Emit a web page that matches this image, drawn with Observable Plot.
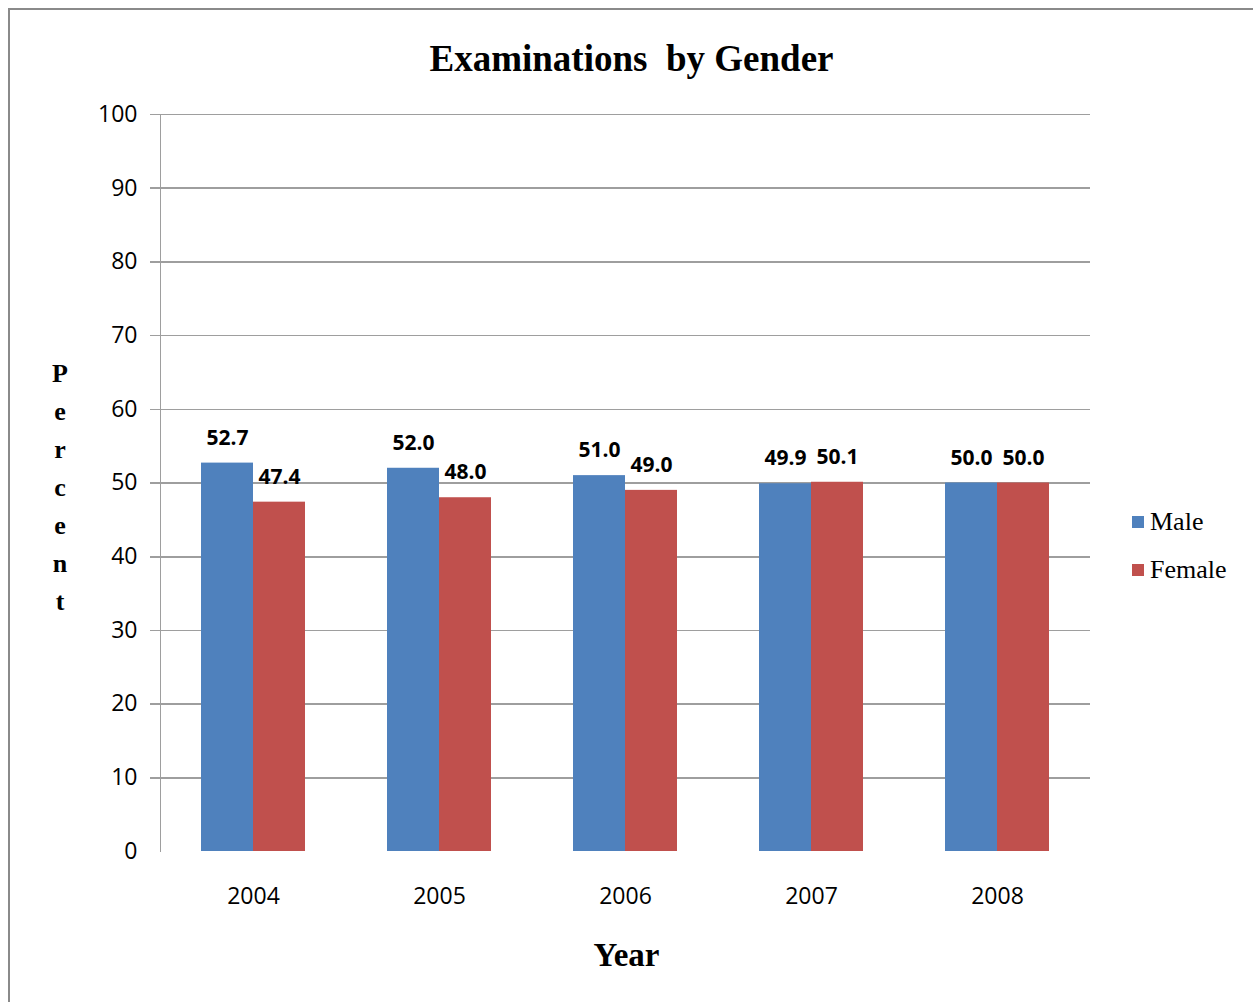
<!DOCTYPE html>
<html>
<head>
<meta charset="utf-8">
<script src="https://cdn.jsdelivr.net/npm/d3@7"></script>
<script src="https://cdn.jsdelivr.net/npm/@observablehq/plot@0.6"></script>
<style>
  html, body { margin: 0; padding: 0; background: #fff; overflow: hidden; }
  #wrap { position: relative; width: 1253px; height: 1002px; overflow: hidden; background: #fff; }
  #frame { position: absolute; left: 8px; top: 8px; width: 2000px; height: 2000px; border: 2px solid #8a8a8a; box-sizing: border-box; }
  #chart { position: absolute; left: 0; top: 0; }
  .title { position: absolute; left: 0; width: 1263px; top: 37px; text-align: center; font-family: "Liberation Serif", serif; font-weight: bold; font-size: 37px; color: #000; white-space: pre; }
  .ylabel { position: absolute; left: 45px; width: 30px; top: 355px; text-align: center; font-family: "Liberation Serif", serif; font-weight: bold; font-size: 26px; line-height: 38px; color: #000; }
  .xlabel { position: absolute; left: 0; width: 1253px; top: 937px; text-align: center; font-family: "Liberation Serif", serif; font-weight: bold; font-size: 33px; color: #000; }
  .legend { position: absolute; left: 1132px; top: 498px; font-family: "Liberation Serif", serif; font-size: 26px; color: #000; }
  .legend .item { display: flex; align-items: center; height: 48px; }
  .legend .sw { width: 12px; height: 12px; margin-right: 6px; }
</style>
</head>
<body>
<div id="wrap">
  <div id="frame"></div>
  <div id="chart"></div>
  <div class="title" id="title"></div>
  <div class="ylabel" id="ylabel"></div>
  <div class="xlabel" id="xlabel"></div>
  <div class="legend" id="legend"></div>
</div>
<script>
const titleText = "Examinations  by Gender";
const yLabelText = "Percent";
const xLabelText = "Year";
const years = ["2004", "2005", "2006", "2007", "2008"];
const genders = ["Male", "Female"];
const maleValues = [52.7, 52.0, 51.0, 49.9, 50.0];
const femaleValues = [47.4, 48.0, 49.0, 50.1, 50.0];
const yTicks = [0, 10, 20, 30, 40, 50, 60, 70, 80, 90, 100];
const colors = ["#4F81BD", "#C0504D"];

const data = years.flatMap((yr, i) => [
  {year: yr, gender: genders[0], value: maleValues[i]},
  {year: yr, gender: genders[1], value: femaleValues[i]}
]);

const gridColor = "#9e9e9e";

const chart = Plot.plot({
  width: 1253,
  height: 1002,
  marginLeft: 160,
  marginRight: 163,
  marginTop: 114,
  marginBottom: 151,
  style: {fontFamily: "'Open Sans', sans-serif", fontSize: "23px", color: "#000", background: "transparent", overflow: "visible"},
  fx: {domain: years, paddingInner: 0, paddingOuter: 0, label: null, axis: null},
  x: {domain: genders, paddingInner: 0, paddingOuter: 0.76, axis: null},
  y: {domain: [0, 100], label: null, axis: null},
  color: {domain: genders, range: colors},
  marks: [
    Plot.gridY(yTicks.filter(t => t > 0), {stroke: gridColor, strokeOpacity: 1, strokeWidth: 1.6, insetLeft: -10, shapeRendering: "crispEdges"}),
    Plot.axisY(yTicks, {tickSize: 0, tickPadding: 23, fontSize: 23, fill: "#000", label: null}),
    Plot.axisFx({anchor: "bottom", tickSize: 0, tickPadding: 36, fontSize: 23, fill: "#000", label: null}),
    Plot.frame({anchor: "left", stroke: gridColor, strokeWidth: 1.6, facetAnchor: "left", shapeRendering: "crispEdges"}),
    Plot.barY(data, {fx: "year", x: "gender", y: "value", fill: "gender"}),
    Plot.text(data, {fx: "year", x: "gender", y: "value", text: d => d.value.toFixed(1), dy: -25, fontWeight: "bold", fontSize: 21, fill: "#000"})
  ]
});
document.getElementById("chart").appendChild(chart);

document.getElementById("title").textContent = titleText;
document.getElementById("xlabel").textContent = xLabelText;
document.getElementById("ylabel").innerHTML = yLabelText.split("").map(c => `<div>${c}</div>`).join("");
document.getElementById("legend").innerHTML = genders.map((g, i) =>
  `<div class="item"><span class="sw" style="background:${colors[i]}"></span><span>${g}</span></div>`).join("");
</script>
</body>
</html>
